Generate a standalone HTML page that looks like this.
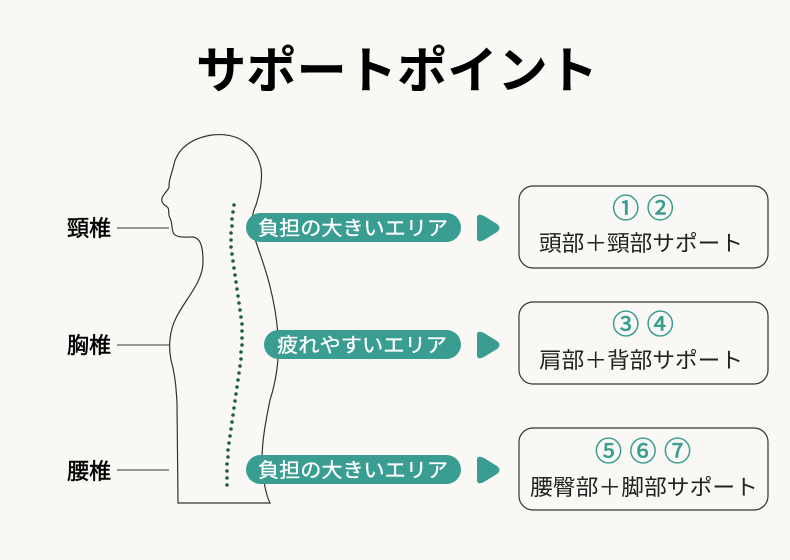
<!DOCTYPE html>
<html><head><meta charset="utf-8"><style>
html,body{margin:0;padding:0;background:#f9f8f4;}
svg{display:block;}
text{font-family:"Liberation Sans","Noto Sans CJK JP",sans-serif;}
</style></head><body>
<svg width="790" height="560" viewBox="0 0 790 560" xmlns="http://www.w3.org/2000/svg">
<rect width="790" height="560" fill="#f9f8f4"/>
<text x="397" y="88" text-anchor="middle" font-size="50" font-weight="bold" fill="#000" textLength="402" lengthAdjust="spacingAndGlyphs">サポートポイント</text>

<path d="M178,503 L177,403 C176,385 175,375 171,360 C168,345 170,330 176,318 C186,298 203,282 203,262 C203,245 200,238 193,237 C185,237 178,238 174,234 C171,230 173,224 170,218 C167,213 171,209 166,206 C161,203 161,199 163,196 C166,191 170,189 169,184 C170,176 173,170 174,164 C178,148 192,138 212,135 C238,132 256,145 261,168 C263,182 259,195 256,205 C250,218 251,228 257,245 C264,265 275,295 278,335 C280,360 275,385 270,400 C266,420 262,440 262,460 C263,480 266,495 270,503 Z" fill="none" stroke="#333" stroke-width="1.2"/>

<g fill="#1f5e3e">
<circle cx="234" cy="205" r="1.8"/><circle cx="233" cy="212" r="1.8"/><circle cx="232" cy="219" r="1.8"/><circle cx="232" cy="226" r="1.8"/><circle cx="231" cy="233" r="1.8"/><circle cx="231" cy="240" r="1.8"/><circle cx="231" cy="247" r="1.8"/><circle cx="232" cy="254" r="1.8"/><circle cx="233" cy="261" r="1.8"/><circle cx="234" cy="268" r="1.8"/><circle cx="235" cy="275" r="1.8"/><circle cx="236" cy="282" r="1.8"/><circle cx="237" cy="289" r="1.8"/><circle cx="238" cy="296" r="1.8"/><circle cx="239" cy="303" r="1.8"/><circle cx="240" cy="310" r="1.8"/><circle cx="241" cy="317" r="1.8"/><circle cx="242" cy="324" r="1.8"/><circle cx="242" cy="331" r="1.8"/><circle cx="242" cy="338" r="1.8"/><circle cx="242" cy="345" r="1.8"/><circle cx="241" cy="352" r="1.8"/><circle cx="241" cy="359" r="1.8"/><circle cx="240" cy="366" r="1.8"/><circle cx="239" cy="373" r="1.8"/><circle cx="238" cy="380" r="1.8"/><circle cx="237" cy="387" r="1.8"/><circle cx="236" cy="394" r="1.8"/><circle cx="235" cy="401" r="1.8"/><circle cx="234" cy="408" r="1.8"/><circle cx="233" cy="415" r="1.8"/><circle cx="232" cy="422" r="1.8"/><circle cx="231" cy="429" r="1.8"/><circle cx="230" cy="436" r="1.8"/><circle cx="229" cy="443" r="1.8"/><circle cx="228" cy="450" r="1.8"/><circle cx="228" cy="457" r="1.8"/><circle cx="227" cy="464" r="1.8"/><circle cx="227" cy="471" r="1.8"/><circle cx="227" cy="478" r="1.8"/><circle cx="227" cy="485" r="1.8"/>
</g>

<g font-size="22" fill="#000" stroke="#000" stroke-width="0.5">
<text x="67" y="236">頸椎</text>
<text x="67" y="353">胸椎</text>
<text x="67" y="479">腰椎</text>
</g>
<g stroke="#333" stroke-width="1">
<line x1="117" y1="228" x2="169" y2="228"/>
<line x1="117" y1="345" x2="169" y2="345"/>
<line x1="117" y1="470" x2="169" y2="470"/>
</g>

<g fill="#3a9d92">
<rect x="246" y="213" width="215" height="29" rx="14.5"/>
<rect x="264" y="330" width="197" height="29" rx="14.5"/>
<rect x="246" y="455" width="215" height="29" rx="14.5"/>
<path d="M477,220 Q476,212 484,216 L497,224 Q502,228 497,232 L484,240 Q476,244 477,236 Z"/>
<path d="M477,337 Q476,329 484,333 L497,341 Q502,345 497,349 L484,357 Q476,361 477,353 Z"/>
<path d="M477,462 Q476,454 484,458 L497,466 Q502,470 497,474 L484,482 Q476,486 477,478 Z"/>
</g>
<g font-size="20" fill="#fff" stroke="#fff" stroke-width="0.3" text-anchor="middle">
<text x="353" y="235" textLength="190" lengthAdjust="spacingAndGlyphs">負担の大きいエリア</text>
<text x="362" y="352" textLength="170" lengthAdjust="spacingAndGlyphs">疲れやすいエリア</text>
<text x="353" y="477" textLength="190" lengthAdjust="spacingAndGlyphs">負担の大きいエリア</text>
</g>

<g fill="none" stroke="#333" stroke-width="1.2">
<rect x="519" y="186" width="249" height="82" rx="14"/>
<rect x="519" y="302" width="249" height="82" rx="14"/>
<rect x="519" y="428" width="249" height="82" rx="14"/>
</g>
<g font-size="27" fill="#3a9d92" stroke="#3a9d92" stroke-width="0.6" text-anchor="middle">
<text x="643" y="218">① ②</text>
<text x="643" y="334">③ ④</text>
<text x="643" y="461">⑤ ⑥ ⑦</text>
</g>
<g font-size="22" fill="#222" text-anchor="middle">
<text x="641" y="251" textLength="204" lengthAdjust="spacingAndGlyphs">頭部＋頸部サポート</text>
<text x="641" y="368" textLength="204" lengthAdjust="spacingAndGlyphs">肩部＋背部サポート</text>
<text x="644" y="495" textLength="228" lengthAdjust="spacingAndGlyphs">腰臀部＋脚部サポート</text>
</g>
</svg>
</body></html>
